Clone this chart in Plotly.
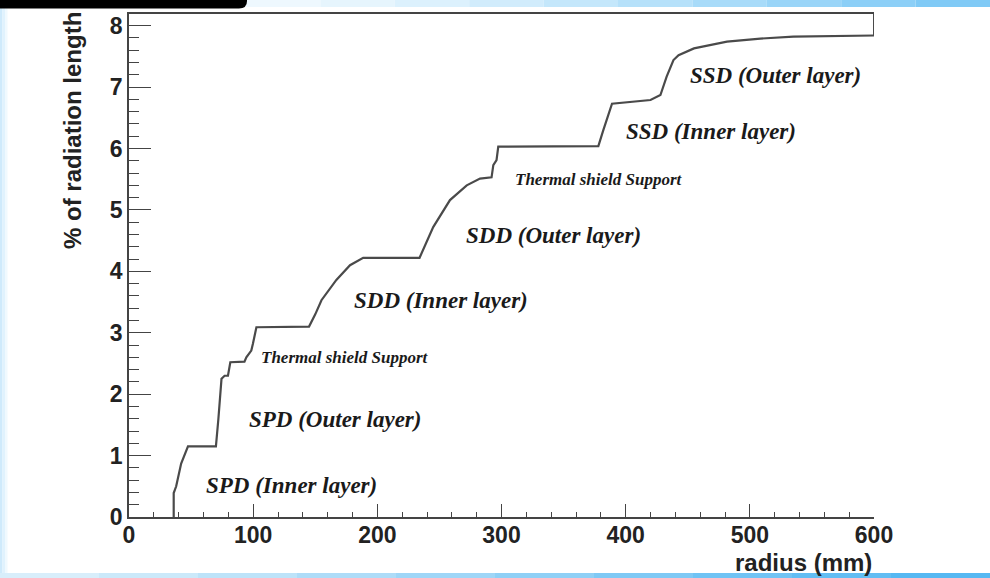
import plotly.graph_objects as go

# ---- data ----
radius_mm = [36, 36, 38, 42, 47.5, 70, 72, 74.5, 77, 79.7, 81.6, 93, 94.5, 98.5, 99.8, 102.6,
             145, 150, 155, 167, 178, 188.6, 234, 237, 245, 258.5, 272, 282.7, 292, 293.4,
             296, 297.4, 378, 382, 389, 420, 428, 433, 438.5, 442.6, 455, 481.6, 508.5, 535,
             570, 600]
percent_x0 = [0, 0.39, 0.5, 0.87, 1.15, 1.15, 1.6, 2.25, 2.3, 2.3, 2.52, 2.53, 2.6, 2.71, 2.82,
              3.09, 3.1, 3.3, 3.53, 3.86, 4.1, 4.22, 4.22, 4.35, 4.72, 5.16, 5.4, 5.51, 5.53,
              5.73, 5.81, 6.03, 6.04, 6.3, 6.73, 6.79, 6.87, 7.17, 7.44, 7.52, 7.63, 7.74, 7.79,
              7.82, 7.83, 7.84]

label_texts = ["SSD (Outer layer)", "SSD (Inner layer)", "Thermal shield Support",
               "SDD (Outer layer)", "SDD (Inner layer)", "Thermal shield Support",
               "SPD (Outer layer)", "SPD (Inner layer)"]
label_x = [521, 469, 378.6, 342, 251, 173.8, 165.7, 131]
label_y = [7.19, 6.28, 5.49, 4.59, 3.53, 2.59, 1.58, 0.52]
label_small = [False, False, True, False, False, True, False, False]

x_range = [0, 600]
y_range = [0, 8.19]
x_ticks = [0, 100, 200, 300, 400, 500, 600]
y_ticks = [0, 1, 2, 3, 4, 5, 6, 7, 8]

W, H = 990, 578
ML, MR, MT, MB = 129, 116, 14, 61

def px(x):
    return (x - ML) / (W - ML - MR)

def py(y):
    return (H - MB - y) / (H - MT - MB)

fig = go.Figure()
fig.add_trace(go.Scatter(x=radius_mm, y=percent_x0, mode="lines",
                         line=dict(color="#4a4a4a", width=2.2), showlegend=False,
                         hoverinfo="skip"))

annotations = []
for t, x, y, small in zip(label_texts, label_x, label_y, label_small):
    annotations.append(dict(
        x=x, y=y, xref="x", yref="y", text=t, showarrow=False,
        font=dict(family="Liberation Serif", size=17 if small else 23,
                  color="#1a1a1a", weight="bold", style="italic"),
        xanchor="center", yanchor="middle"))

annotations.append(dict(x=1.0, y=py(562), xref="paper", yref="paper",
                        text="radius (mm)", showarrow=False, xanchor="right",
                        yanchor="middle",
                        font=dict(family="Liberation Sans", size=24, color="#222",
                                  weight="bold")))
annotations.append(dict(x=px(72), y=py(131), xref="paper", yref="paper",
                        text="% of radiation length", showarrow=False, textangle=-90,
                        xanchor="center", yanchor="middle",
                        font=dict(family="Liberation Sans", size=24, color="#222",
                                  weight="bold")))

shapes = []
# right frame segment from curve end to top of frame
shapes.append(dict(type="line", xref="x", yref="y", x0=radius_mm[-1], x1=radius_mm[-1],
                   y0=percent_x0[-1], y1=y_range[1], line=dict(color="#4a4a4a", width=2)))

# decorative page border strips (slide background)
def strip(x0, x1, y0, y1, c):
    shapes.append(dict(type="rect", xref="paper", yref="paper", x0=px(x0), x1=px(x1),
                       y0=py(y1), y1=py(y0), fillcolor=c, line=dict(width=0), layer="below"))

left_cols = ["#cfeafb", "#e0f2fd", "#f0f9fe"]
for i, c in enumerate(left_cols):
    strip(i * 2.5, (i + 1) * 2.5, 8, 574, c)

bottom_cols = ["#d8eefb", "#cbe9fa", "#bde3f9", "#aedcf8", "#9fd6f7", "#8fd0f6",
               "#7fc9f5", "#70c3f4", "#62bdf3", "#56b8f2"]
n = len(bottom_cols)
for i, c in enumerate(bottom_cols):
    strip(i * W / n, (i + 1) * W / n, 573, 578, c)

top_cols = ["#eef8fe", "#e6f5fd", "#dcf1fd", "#d1ecfc", "#c4e7fb", "#b6e1fa",
            "#a8dbf9", "#9ad5f8", "#8ccff7", "#80caf6"]
n = len(top_cols)
x_start = 246
for i, c in enumerate(top_cols):
    strip(x_start + i * (W - x_start) / n, x_start + (i + 1) * (W - x_start) / n, 0, 7, c)

# black bar at top-left
shapes.append(dict(type="path", xref="paper", yref="paper",
                   path=f"M {px(0)},{py(-2)} L {px(247)},{py(-2)} L {px(247)},{py(1)} "
                        f"Q {px(247)},{py(8.5)} {px(239)},{py(8.5)} L {px(0)},{py(8.5)} Z",
                   fillcolor="#000000", line=dict(width=0)))

axis_font = dict(family="Liberation Sans", size=23, color="#222", weight="bold")

fig.update_layout(
    width=W, height=H,
    margin=dict(l=ML, r=MR, t=MT, b=MB, pad=0),
    paper_bgcolor="white", plot_bgcolor="white",
    xaxis=dict(range=x_range, tickvals=x_ticks, ticks="inside", ticklen=13,
               tickcolor="#444", tickwidth=1.3, showline=True, linecolor="#444",
               linewidth=1.8, mirror=True, showgrid=False, zeroline=False,
               tickfont=axis_font, ticklabelstandoff=-4,
               minor=dict(dtick=20, ticks="inside", ticklen=5, tickcolor="#444",
                          tickwidth=1.2, showgrid=False)),
    yaxis=dict(range=y_range, tickvals=y_ticks, ticks="inside", ticklen=22,
               tickcolor="#444", tickwidth=1.3, showline=True, linecolor="#444",
               linewidth=1.8, showgrid=False, zeroline=False,
               tickfont=axis_font,
               minor=dict(dtick=0.2, ticks="inside", ticklen=10, tickcolor="#444",
                          tickwidth=1.2, showgrid=False)),
    annotations=annotations,
    shapes=shapes,
)

fig.write_html("out.html")
